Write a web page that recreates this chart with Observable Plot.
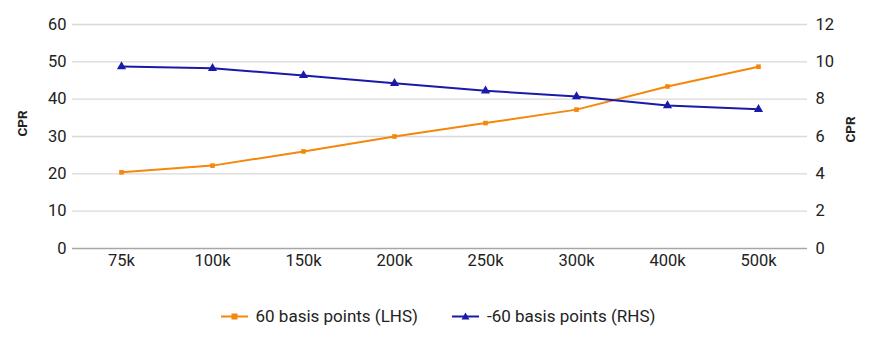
<!DOCTYPE html>
<html>
<head>
<meta charset="utf-8">
<script src="https://cdn.jsdelivr.net/npm/d3@7"></script>
<script src="https://cdn.jsdelivr.net/npm/@observablehq/plot@0.6"></script>
<style>
  body { margin: 0; background: #fff; font-family: Roboto, "Noto Sans", sans-serif; }
  #chart svg { display: block; }
  #chart svg g[aria-label$="tick label"] { font-size: 16.5px; }
  .legend { display: flex; justify-content: center; align-items: center; gap: 34px; margin-top: 16px; font-size: 17px; line-height: 20px; color: #222; padding-left: 6px; }
  .legend .item { display: flex; align-items: center; gap: 8px; }
</style>
</head>
<body>
<div id="chart"></div>
<div class="legend" id="legend"></div>
<script>
const categories = ["75k", "100k", "150k", "200k", "250k", "300k", "400k", "500k"];
const lhsValues = [20.4, 22.2, 26.0, 30.0, 33.6, 37.2, 43.4, 48.7];   // 60 basis points (LHS)
const rhsValues = [9.75, 9.65, 9.27, 8.85, 8.45, 8.14, 7.66, 7.46];   // -60 basis points (RHS)
const leftTicks = [0, 10, 20, 30, 40, 50, 60];
const rightTicks = [0, 2, 4, 6, 8, 10, 12];
const seriesNames = ["60 basis points (LHS)", "-60 basis points (RHS)"];
const colors = ["#f5870a", "#1a1aa8"];
const ratio = 60 / 12;

const lhs = categories.map((c, i) => ({cat: c, v: lhsValues[i]}));
const rhs = categories.map((c, i) => ({cat: c, v: rhsValues[i]}));

const chart = Plot.plot({
  width: 870,
  height: 290,
  marginLeft: 72,
  marginRight: 63,
  marginTop: 24,
  marginBottom: 42,
  style: {fontFamily: "Roboto, sans-serif", color: "#222", background: "#fff"},
  x: {type: "point", domain: categories, padding: 0.5},
  y: {domain: [0, 60]},
  marks: [
    Plot.ruleY(leftTicks.filter(d => d > 0), {stroke: "#d9d9d9", strokeWidth: 1.3}),
    Plot.ruleY([0], {stroke: "#a6a6a6", strokeWidth: 1.5}),
    Plot.axisX({tickSize: 0, tickPadding: 6, label: null}),
    Plot.axisY({ticks: leftTicks, tickSize: 0, tickPadding: 6, label: null}),
    Plot.axisY({anchor: "right", ticks: rightTicks.map(d => d * ratio), tickFormat: d => d / ratio, tickSize: 0, tickPadding: 8, label: null}),
    Plot.text(["CPR"], {frameAnchor: "left", textAnchor: "middle", dx: -50, dy: -13, rotate: -90, fontWeight: "bold", fontSize: 13.5, fill: "#222"}),
    Plot.text(["CPR"], {frameAnchor: "right", textAnchor: "middle", dx: 43, dy: -7, rotate: -90, fontWeight: "bold", fontSize: 13.5, fill: "#222"}),
    Plot.line(lhs, {x: "cat", y: "v", stroke: colors[0], strokeWidth: 2}),
    Plot.dot(lhs, {x: "cat", y: "v", symbol: "square", r: 2.6, fill: colors[0]}),
    Plot.line(rhs, {x: "cat", y: d => d.v * ratio, stroke: colors[1], strokeWidth: 2}),
    Plot.dot(rhs, {x: "cat", y: d => d.v * ratio, symbol: "triangle", r: 3.4, fill: colors[1]})
  ]
});
document.getElementById("chart").appendChild(chart);

const legend = document.getElementById("legend");
const shapes = [
  '<rect x="10.5" y="4.5" width="6" height="6"/>',
  '<path d="M13.5,3.5 L17.5,10.5 L9.5,10.5 Z"/>'
];
seriesNames.forEach((name, i) => {
  const item = document.createElement("div");
  item.className = "item";
  item.innerHTML = `<svg width="27" height="15"><line x1="0" x2="27" y1="7.5" y2="7.5" stroke="${colors[i]}" stroke-width="2"/><g fill="${colors[i]}">${shapes[i]}</g></svg><span>${name}</span>`;
  legend.appendChild(item);
});
</script>
</body>
</html>
